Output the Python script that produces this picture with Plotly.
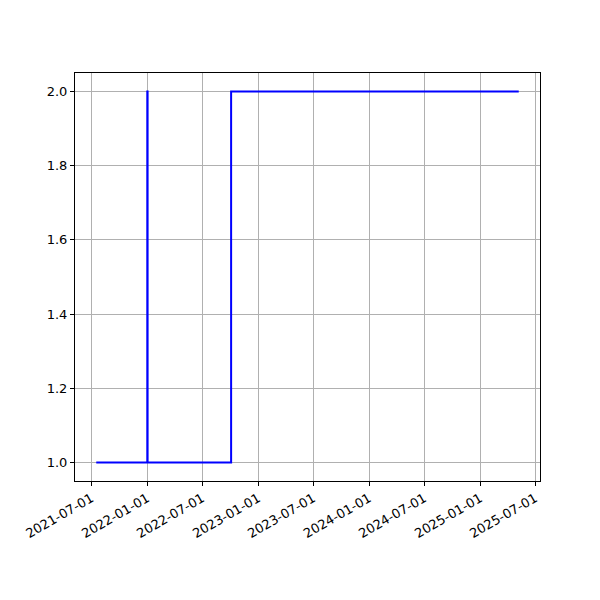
import plotly.graph_objects as go

dates = ["2021-07-17", "2021-12-31", "2022-01-01", "2022-01-02", "2022-10-03", "2022-10-04", "2025-05-08"]
values = [1, 1, 2, 1, 1, 2, 2]

tick_dates = ["2021-07-01", "2022-01-01", "2022-07-01", "2023-01-01", "2023-07-01",
              "2024-01-01", "2024-07-01", "2025-01-01", "2025-07-01"]
y_ticks = [1.0, 1.2, 1.4, 1.6, 1.8, 2.0]

fig = go.Figure()
fig.add_trace(go.Scatter(x=dates, y=values, mode="lines",
                         line=dict(color="#0000ff", width=2, shape="hv")))

axis_common = dict(showline=True, linecolor="black", linewidth=1, mirror=True,
                   ticks="outside", ticklen=4, tickcolor="black",
                   showgrid=True, gridcolor="#b0b0b0", gridwidth=1, zeroline=False,
                   tickfont=dict(family="DejaVu Sans", size=13, color="black"))

fig.update_layout(
    width=600, height=600,
    margin=dict(l=67, r=68, t=65, b=127),
    plot_bgcolor="white", paper_bgcolor="white",
    showlegend=False,
    xaxis=dict(range=["2021-05-08", "2025-07-17"], tickvals=tick_dates,
               ticktext=tick_dates, tickangle=-30, **axis_common),
    yaxis=dict(range=[0.95, 2.05], tickvals=y_ticks,
               ticktext=[f"{v:.1f}" for v in y_ticks], **axis_common),
)

fig.write_html("out.html")
